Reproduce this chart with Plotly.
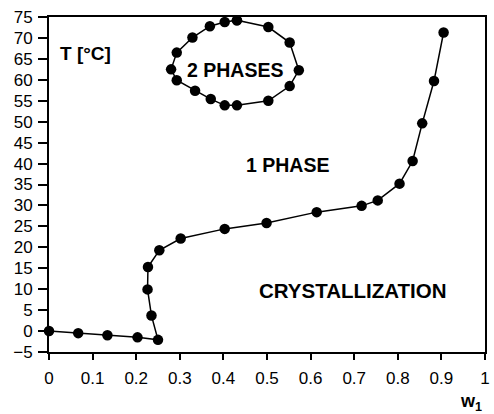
import plotly.graph_objects as go

# Lower boundary (crystallization / 1 phase)
w_low = [0.0, 0.067, 0.134, 0.203, 0.25, 0.235, 0.226, 0.227, 0.253, 0.302, 0.403,
         0.499, 0.614, 0.717, 0.754, 0.804, 0.834, 0.856, 0.883, 0.905]
T_low = [0.0, -0.5, -1.0, -1.5, -2.1, 3.7, 9.95, 15.3, 19.3, 22.1, 24.4,
         25.8, 28.4, 29.9, 31.2, 35.2, 40.6, 49.6, 59.7, 71.3]

# Two-phase loop (closed)
w_loop = [0.431, 0.503, 0.552, 0.573, 0.552, 0.503, 0.431, 0.403, 0.371, 0.335,
          0.293, 0.280, 0.293, 0.329, 0.369, 0.403, 0.431]
T_loop = [74.2, 72.6, 68.9, 62.3, 58.5, 55.0, 53.9, 53.9, 55.4, 57.4,
          59.9, 62.5, 66.5, 70.1, 72.8, 73.8, 74.2]

x_ticks = [0, 0.1, 0.2, 0.3, 0.4, 0.5, 0.6, 0.7, 0.8, 0.9, 1]
x_labels = ["0", "0.1", "0.2", "0.3", "0.4", "0.5", "0.6", "0.7", "0.8", "0.9", "1"]
y_ticks = list(range(-5, 80, 5))

FONT = "Liberation Sans, Arial, sans-serif"

fig = go.Figure()
for xs, ys in [(w_low, T_low), (w_loop, T_loop)]:
    fig.add_trace(go.Scatter(
        x=xs, y=ys, mode="lines+markers",
        line=dict(color="black", width=1.5),
        marker=dict(color="black", size=10.5),
        cliponaxis=False, showlegend=False, hoverinfo="skip"))

annots = [
    (0.083, 66.3, "T [°C]", 19),
    (0.427, 62.3, "2 PHASES", 19.5),
    (0.548, 39.6, "1 PHASE", 19.5),
    (0.698, 9.8, "CRYSTALLIZATION", 20.5),
]
for x, y, t, s in annots:
    fig.add_annotation(x=x, y=y, text=f"<b>{t}</b>", showarrow=False,
                       font=dict(family=FONT, size=s, color="black"))
fig.add_annotation(x=0.968, y=-0.19, xref="x", yref="paper",
                   text="<b>w<sub>1</sub></b>", showarrow=False,
                   font=dict(family=FONT, size=18, color="black"))

fig.update_xaxes(range=[0, 1], tickvals=x_ticks, ticktext=x_labels,
                 showline=True, linecolor="black", linewidth=2, mirror=True,
                 ticks="outside", ticklen=6, tickwidth=1.5, tickcolor="black",
                 ticklabelstandoff=4,
                 showgrid=False, zeroline=False,
                 tickfont=dict(family=FONT, size=17, color="black"))
fig.update_yaxes(range=[-5, 75], tickvals=y_ticks,
                 showline=True, linecolor="black", linewidth=2, mirror=True,
                 ticks="outside", ticklen=9, tickwidth=1.5, tickcolor="black",
                 ticklabelstandoff=2,
                 showgrid=False, zeroline=False,
                 tickfont=dict(family=FONT, size=17, color="black"))

fig.update_layout(width=494, height=414,
                  margin=dict(l=49, r=4, t=17, b=62),
                  plot_bgcolor="white", paper_bgcolor="white")

fig.write_html("out.html")
